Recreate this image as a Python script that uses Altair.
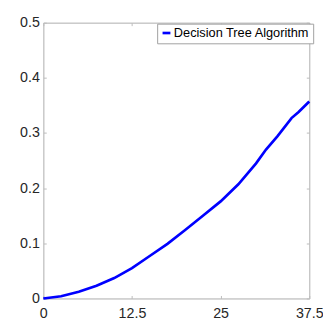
import altair as alt
import pandas as pd

x_vals = [0, 2.5, 5, 7.5, 10, 12.5, 15, 17.5, 20, 22.5, 25, 27.5, 30, 31.4, 33, 35, 36, 37.5]
y_vals = [0, 0.004, 0.012, 0.023, 0.037, 0.055, 0.077, 0.099, 0.124, 0.150, 0.176, 0.207, 0.245, 0.270, 0.294, 0.327, 0.338, 0.357]
series = "Decision Tree Algorithm"
x_ticks = [0, 12.5, 25, 37.5]
y_ticks = [0, 0.1, 0.2, 0.3, 0.4, 0.5]

df = pd.DataFrame({"x": x_vals, "y": y_vals, "s": [series] * len(x_vals)})

W, H = 271, 281
FONT = "Liberation Sans"
AX = "#bcbcbc"
LAB = "#262626"

xs = alt.Scale(domain=[0, 37.5], nice=False, zero=False)
ys = alt.Scale(domain=[0, 0.5], nice=False, zero=False)

def axis(orient, labels, ticks, domain, offset=0, values=None, pad=4):
    return alt.Axis(orient=orient, labels=labels, ticks=ticks, domain=domain, grid=False,
                    title=None, values=values, domainColor=AX, tickColor=AX,
                    tickSize=3, domainWidth=1, labelFont=FONT, labelFontSize=14.5,
                    labelColor=LAB, labelPadding=pad, offset=offset, format=".3~g",
                    labelFlush=False, labelOverlap=False)

base = alt.Chart(df)

main = base.mark_line(strokeWidth=2.7, color="#0000ff").encode(
    x=alt.X("x:Q", scale=xs, axis=axis("bottom", True, False, True, values=x_ticks, pad=8)),
    y=alt.Y("y:Q", scale=ys, axis=axis("left", True, False, True, values=y_ticks)),
    color=alt.Color("s:N", scale=alt.Scale(range=["#0000ff"]),
                    legend=alt.Legend(title=None, orient="none", legendX=116, legendY=1,
                                      symbolType="stroke", symbolSize=64, symbolStrokeWidth=2.7,
                                      labelFont=FONT, labelFontSize=13, labelColor="#000000",
                                      labelOffset=1, padding=3, strokeColor="#a0a0a0",
                                      fillColor="#ffffff")),
)

box = base.mark_line(opacity=0).encode(
    x=alt.X("x:Q", scale=xs, axis=axis("top", False, False, True, values=x_ticks)),
    y=alt.Y("y:Q", scale=ys, axis=axis("right", False, False, True, values=y_ticks)),
)

ticks_in1 = base.mark_line(opacity=0).encode(
    x=alt.X("x:Q", scale=xs, axis=axis("top", False, True, False, offset=-H, values=x_ticks)),
    y=alt.Y("y:Q", scale=ys, axis=axis("right", False, True, False, offset=-W, values=y_ticks)),
)

ticks_in2 = base.mark_line(opacity=0).encode(
    x=alt.X("x:Q", scale=xs, axis=axis("bottom", False, True, False, offset=-H, values=x_ticks)),
    y=alt.Y("y:Q", scale=ys, axis=axis("left", False, True, False, offset=-W, values=y_ticks)),
)

chart = alt.layer(box, ticks_in1, ticks_in2, main).resolve_axis(
    x="independent", y="independent"
).properties(
    width=W, height=H,
    autosize=alt.AutoSizeParams(type="none"),
    padding={"left": 36, "top": 12, "right": 14, "bottom": 20},
).configure_view(stroke=None).configure(background="#ffffff")

chart.save("out.html", embed_options={"renderer": "svg", "actions": False})
